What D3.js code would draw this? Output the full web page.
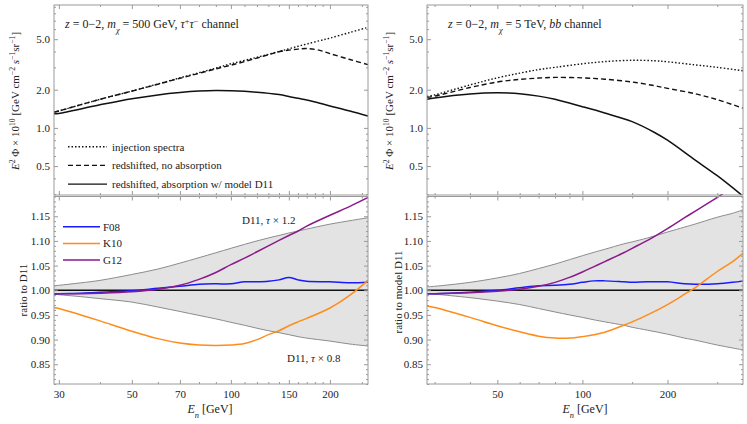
<!DOCTYPE html>
<head>
<meta charset="utf-8">
<script src="https://d3js.org/d3.v7.min.js"></script>
<style>
body { margin: 0; background: #fff; }
text { font-family: "Liberation Serif", serif; fill: #222; }
.frame { fill: none; stroke: #9a9a9a; stroke-width: 1; }
.tick line { stroke: #9a9a9a; }
.tick text { font-size: 11px; fill: #222; }
</style>
</head>
<body>
<div id="chart"></div>
<script>
// ---- data ----
// top panels: E^2 Phi x 1e10
var eTopL   = [29, 30, 40, 50, 60, 70, 80, 90, 100, 120, 140, 150, 160, 170, 185, 200, 230, 261];
var injL    = [1.33, 1.36, 1.68, 1.95, 2.22, 2.48, 2.72, 2.96, 3.2, 3.6, 4.0, 4.2, 4.4, 4.58, 4.85, 5.1, 5.65, 6.2];
var noAbsL  = [1.33, 1.36, 1.68, 1.95, 2.21, 2.46, 2.69, 2.92, 3.12, 3.55, 3.98, 4.1, 4.18, 4.22, 4.1, 3.85, 3.46, 3.15];
var absL    = [1.29, 1.30, 1.52, 1.70, 1.82, 1.90, 1.95, 1.97, 1.96, 1.91, 1.83, 1.77, 1.71, 1.66, 1.57, 1.49, 1.36, 1.24];

var eTopR   = [28.2, 30, 40, 50, 60, 70, 80, 100, 120, 150, 180, 200, 250, 300, 370];
var injR    = [1.77, 1.82, 2.18, 2.48, 2.70, 2.88, 3.0, 3.2, 3.33, 3.41, 3.38, 3.32, 3.14, 3.0, 2.82];
var noAbsR  = [1.74, 1.78, 2.08, 2.30, 2.41, 2.47, 2.50, 2.48, 2.42, 2.30, 2.15, 2.05, 1.86, 1.67, 1.43];
var absR    = [1.68, 1.72, 1.85, 1.89, 1.86, 1.78, 1.68, 1.47, 1.31, 1.12, 0.92, 0.80, 0.56, 0.42, 0.29];

// bottom panels: ratio to D11
var eBotL    = [29, 30, 35, 40, 50, 60, 70, 80, 90, 100, 110, 120, 130, 140, 150, 160, 170, 200, 230, 261];
var bandHiL  = [1.009, 1.010, 1.015, 1.020, 1.032, 1.043, 1.055, 1.066, 1.076, 1.085, 1.093, 1.100, 1.106, 1.111, 1.116, 1.120, 1.124, 1.134, 1.141, 1.147];
var bandLoL  = [0.992, 0.991, 0.987, 0.983, 0.976, 0.966, 0.957, 0.949, 0.942, 0.935, 0.929, 0.923, 0.918, 0.914, 0.910, 0.906, 0.903, 0.897, 0.891, 0.887];
var f08L     = [0.992, 0.993, 0.994, 0.996, 0.999, 1.004, 1.008, 1.012, 1.013, 1.013, 1.017, 1.017, 1.018, 1.021, 1.026, 1.021, 1.018, 1.017, 1.015, 1.016];
var k10L     = [0.965, 0.963, 0.950, 0.938, 0.917, 0.902, 0.893, 0.889, 0.888, 0.889, 0.892, 0.900, 0.910, 0.918, 0.928, 0.936, 0.943, 0.964, 0.990, 1.020];
var g12L     = [0.993, 0.993, 0.993, 0.994, 0.997, 1.002, 1.010, 1.022, 1.036, 1.052, 1.065, 1.078, 1.090, 1.101, 1.111, 1.120, 1.130, 1.152, 1.170, 1.188];

var eBotR    = [28.2, 30, 40, 50, 60, 70, 80, 90, 100, 110, 120, 140, 150, 170, 200, 230, 250, 300, 340, 370];
var bandHiR  = [1.007, 1.008, 1.016, 1.025, 1.034, 1.044, 1.053, 1.062, 1.070, 1.077, 1.083, 1.094, 1.098, 1.106, 1.118, 1.128, 1.134, 1.148, 1.156, 1.163];
var bandLoR  = [0.993, 0.992, 0.985, 0.978, 0.971, 0.963, 0.956, 0.950, 0.945, 0.940, 0.936, 0.929, 0.925, 0.919, 0.911, 0.903, 0.899, 0.889, 0.883, 0.879];
var f08R     = [0.993, 0.993, 0.996, 1.000, 1.005, 1.009, 1.010, 1.012, 1.016, 1.019, 1.019, 1.017, 1.016, 1.017, 1.017, 1.013, 1.012, 1.013, 1.016, 1.019];
var k10R     = [0.968, 0.965, 0.945, 0.928, 0.916, 0.907, 0.903, 0.903, 0.906, 0.910, 0.915, 0.929, 0.936, 0.950, 0.971, 0.992, 1.005, 1.038, 1.058, 1.075];
var g12R     = [0.993, 0.993, 0.995, 0.998, 1.002, 1.008, 1.016, 1.026, 1.037, 1.048, 1.058, 1.076, 1.085, 1.101, 1.125, 1.147, 1.160, 1.188, 1.21, 1.225];

// ticks
var xMajorL = [30, 50, 70, 100, 150, 200];
var xMinorL = [40, 60, 80, 90, 110, 120, 130, 140, 160, 170, 180, 190, 250];
var xMajorR = [50, 100, 200];
var xMinorR = [30, 40, 60, 70, 80, 90, 150, 300];
var yMajorTop = [0.5, 1, 2, 5];
var yMinorTop = [0.3, 0.4, 0.6, 0.7, 0.8, 0.9, 3, 4, 6, 7, 8, 9];
var yMajorBot = [0.85, 0.90, 0.95, 1.00, 1.05, 1.10, 1.15];
var yMinorBot = d3.range(81, 120).map(function(d) { return d / 100; })
  .filter(function(d) { return Math.round(d * 100) % 5 != 0; });

var colF08 = "#1a1aff", colK10 = "#ff8c1a", colG12 = "#8b1a8b";

var W = 747, H = 424;
var topY = [5, 195], botY = [196.5, 384];

var svg = d3.select("#chart").append("svg").attr("width", W).attr("height", H);

function panel(id, x0, x1, eDom) {
  var p = {};
  p.x0 = x0; p.x1 = x1;
  p.x = d3.scaleLog().domain(eDom).range([x0, x1]);
  p.yTop = d3.scaleLog().domain([0.296, 9.3]).range([topY[1], topY[0]]);
  p.yBot = d3.scaleLinear().domain([0.81, 1.19]).range([botY[1], botY[0]]);
  var defs = svg.append("defs");
  defs.append("clipPath").attr("id", "clipT" + id).append("rect")
    .attr("x", x0).attr("y", topY[0]).attr("width", x1 - x0).attr("height", topY[1] - topY[0]);
  defs.append("clipPath").attr("id", "clipB" + id).append("rect")
    .attr("x", x0).attr("y", botY[0] - 2.5).attr("width", x1 - x0).attr("height", botY[1] - botY[0] + 2.5);
  p.gT = svg.append("g").attr("clip-path", "url(#clipT" + id + ")");
  p.gB = svg.append("g").attr("clip-path", "url(#clipB" + id + ")");
  return p;
}

function axes(p, xMajor, xMinor) {
  var x = p.x;
  [[p.yTop, topY, yMajorTop, yMinorTop, d3.format(".1f")],
   [p.yBot, botY, yMajorBot, yMinorBot, d3.format(".2f")]].forEach(function(c, i) {
    var y = c[0], yr = c[1];
    var g = svg.append("g");
    // y axes, left with labels, right mirrored
    g.append("g").attr("transform", "translate(" + p.x0 + ",0)")
      .call(d3.axisLeft(y).tickValues(c[2]).tickSize(-4).tickPadding(4).tickFormat(c[4]));
    g.append("g").attr("transform", "translate(" + p.x0 + ",0)")
      .call(d3.axisLeft(y).tickValues(c[3]).tickSize(-2).tickFormat(""));
    g.append("g").attr("transform", "translate(" + p.x1 + ",0)")
      .call(d3.axisRight(y).tickValues(c[2]).tickSize(-4).tickFormat(""));
    g.append("g").attr("transform", "translate(" + p.x1 + ",0)")
      .call(d3.axisRight(y).tickValues(c[3]).tickSize(-2).tickFormat(""));
    // x axes on bottom and top edges
    g.append("g").attr("transform", "translate(0," + yr[1] + ")")
      .call(d3.axisBottom(x).tickValues(xMajor).tickSize(-4).tickPadding(6)
        .tickFormat(i == 1 ? d3.format("d") : ""));
    g.append("g").attr("transform", "translate(0," + yr[1] + ")")
      .call(d3.axisBottom(x).tickValues(xMinor).tickSize(-2).tickFormat(""));
    g.append("g").attr("transform", "translate(0," + yr[0] + ")")
      .call(d3.axisTop(x).tickValues(xMajor).tickSize(-4).tickFormat(""));
    g.append("g").attr("transform", "translate(0," + yr[0] + ")")
      .call(d3.axisTop(x).tickValues(xMinor).tickSize(-2).tickFormat(""));
    g.selectAll(".domain").remove();
    g.append("rect").attr("class", "frame")
      .attr("x", p.x0).attr("y", yr[0]).attr("width", p.x1 - p.x0).attr("height", yr[1] - yr[0]);
  });
}

function topCurves(p, es, inj, noAbs, abs) {
  var line = function(vals) {
    return d3.line().x(function(d, i) { return p.x(es[i]); })
      .y(function(d) { return p.yTop(d); }).curve(d3.curveCatmullRom)(vals);
  };
  p.gT.append("path").attr("d", line(inj)).attr("fill", "none").attr("stroke", "#111")
    .attr("stroke-width", 1.4).attr("stroke-dasharray", "1.5,2");
  p.gT.append("path").attr("d", line(noAbs)).attr("fill", "none").attr("stroke", "#111")
    .attr("stroke-width", 1.4).attr("stroke-dasharray", "5,3");
  p.gT.append("path").attr("d", line(abs)).attr("fill", "none").attr("stroke", "#111")
    .attr("stroke-width", 1.5);
}

function botCurves(p, es, hi, lo, f08, k10, g12) {
  var y = p.yBot;
  var area = d3.area().x(function(d) { return p.x(d.e); })
    .y0(function(d) { return y(d.lo); }).y1(function(d) { return y(d.hi); })
    .curve(d3.curveCatmullRom);
  var band = es.map(function(e, i) { return {e: e, lo: lo[i], hi: hi[i]}; });
  p.gB.append("path").attr("d", area(band)).attr("fill", "#e3e3e3");
  var line = function(vals) {
    return d3.line().x(function(d, i) { return p.x(es[i]); })
      .y(function(d) { return y(d); }).curve(d3.curveCatmullRom)(vals);
  };
  p.gB.append("path").attr("d", line(hi)).attr("fill", "none").attr("stroke", "#8c8c8c").attr("stroke-width", 1);
  p.gB.append("path").attr("d", line(lo)).attr("fill", "none").attr("stroke", "#8c8c8c").attr("stroke-width", 1);
  p.gB.append("line").attr("x1", p.x0).attr("x2", p.x1).attr("y1", y(1)).attr("y2", y(1))
    .attr("stroke", "#111").attr("stroke-width", 1.3);
  [[f08, colF08], [k10, colK10], [g12, colG12]].forEach(function(c) {
    p.gB.append("path").attr("d", line(c[0])).attr("fill", "none")
      .attr("stroke", c[1]).attr("stroke-width", 1.5);
  });
}

function label(parts, x, y, size, anchor, rot) {
  var t = svg.append("text").attr("font-size", size).attr("text-anchor", anchor || "start");
  if (rot) t.attr("transform", "translate(" + x + "," + y + ") rotate(-90)");
  else t.attr("x", x).attr("y", y);
  parts.forEach(function(s) {
    var ts = t.append("tspan").text(s[0]);
    if (s[1] && s[1].indexOf("i") >= 0) ts.attr("font-style", "italic");
    if (s[1] && s[1].indexOf("^") >= 0) ts.attr("baseline-shift", "super").attr("font-size", size * 0.7);
    if (s[1] && s[1].indexOf("_") >= 0) ts.attr("baseline-shift", "sub").attr("font-size", size * 0.7);
  });
  return t;
}

var L = panel("L", 54, 368, [29, 261]);
var R = panel("R", 427, 743, [28.2, 370]);

topCurves(L, eTopL, injL, noAbsL, absL);
topCurves(R, eTopR, injR, noAbsR, absR);
botCurves(L, eBotL, bandHiL, bandLoL, f08L, k10L, g12L);
botCurves(R, eBotR, bandHiR, bandLoR, f08R, k10R, g12R);
axes(L, xMajorL, xMinorL);
axes(R, xMajorR, xMinorR);

// titles
label([["z", "i"], [" = 0\u22122, "], ["m", "i"], ["\u03c7", "i_"], [" = 500 GeV, "], ["\u03c4", "i"], ["+", "^"],
       ["\u03c4", "i"], ["\u2212", "^"], [" channel"]], 65, 28, 12);
label([["z", "i"], [" = 0\u22122, "], ["m", "i"], ["\u03c7", "i_"], [" = 5 TeV, "], ["bb", "i"], [" channel"]], 448, 28, 12);

// y labels
var yLab = [["E", "i"], ["2", "^"], [" \u03a6 \u00d7 10"], ["10", "^"], [" [GeV cm"], ["\u22122", "^"], [" "], ["s", "i"],
            ["\u22121", "^"], ["sr"], ["\u22121", "^"], ["]"]];
label(yLab, 19, 101, 11, "middle", true);
label(yLab, 393, 101, 11, "middle", true);
label([["ratio to D11"]], 27, 290, 11, "middle", true);
label([["ratio to model D11"]], 402, 292, 11, "middle", true);

// x labels
label([["E", "i"], ["n", "i_"], [" [GeV]"]], 210, 413, 12, "middle");
label([["E", "i"], ["n", "i_"], [" [GeV]"]], 585, 413, 12, "middle");

// top legend
var legTop = [["1.5,2", "injection spectra"], ["5,3", "redshifted, no absorption"], [null, "redshifted, absorption w/ model D11"]];
legTop.forEach(function(d, i) {
  var yy = 146.7 + i * 18.7;
  svg.append("line").attr("x1", 68).attr("x2", 107).attr("y1", yy).attr("y2", yy)
    .attr("stroke", "#111").attr("stroke-width", 1.4).attr("stroke-dasharray", d[0]);
  label([[d[1]]], 112, yy + 4, 11);
});

// bottom legend
var legBot = [[colF08, "F08"], [colK10, "K10"], [colG12, "G12"]];
legBot.forEach(function(d, i) {
  var yy = 226.7 + i * 16.7;
  svg.append("line").attr("x1", 63).attr("x2", 100).attr("y1", yy).attr("y2", yy)
    .attr("stroke", d[0]).attr("stroke-width", 1.5);
  label([[d[1]]], 103, yy + 4, 11);
});

label([["D11, "], ["\u03c4", "i"], [" \u00d7 1.2"]], 242, 224, 11);
label([["D11, "], ["\u03c4", "i"], [" \u00d7 0.8"]], 287, 362, 11);
</script>
</body>
